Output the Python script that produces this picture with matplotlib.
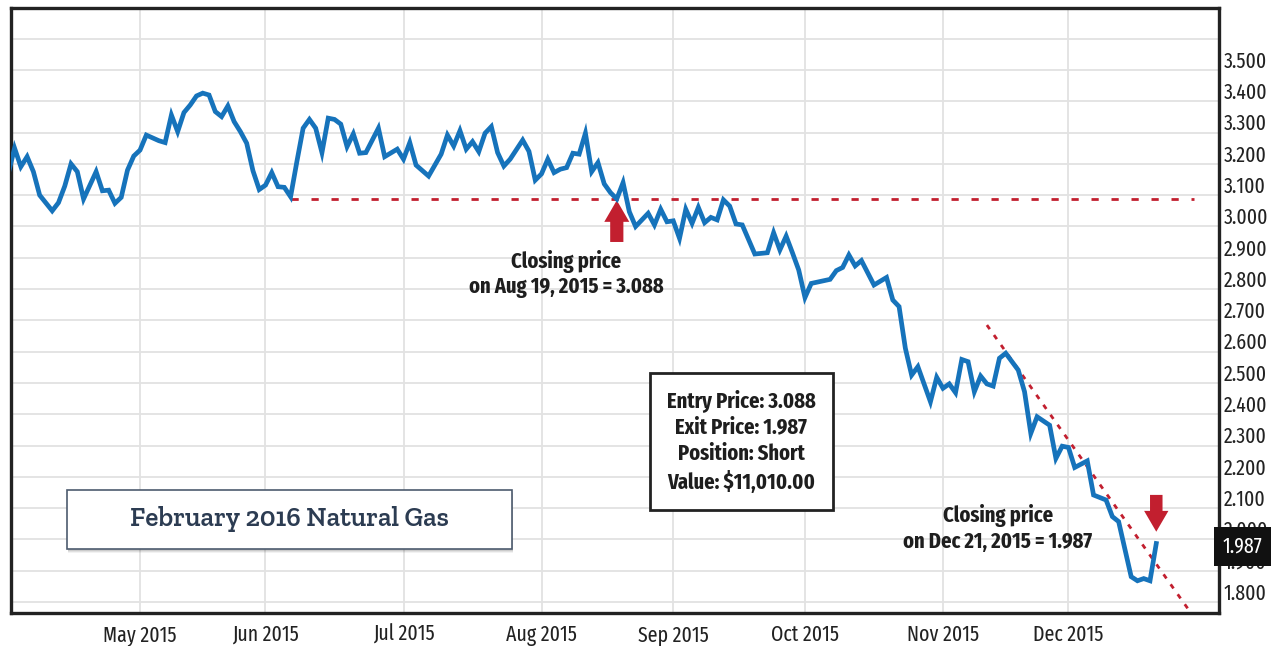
import numpy as np
import matplotlib
matplotlib.use("Agg")
import matplotlib.pyplot as plt
from matplotlib import font_manager as fm
from matplotlib import transforms
from matplotlib.patches import Rectangle

# February 2016 natural gas futures, daily closes
dates = [
    "2015-04-01", "2015-04-02", "2015-04-06", "2015-04-07", "2015-04-08", "2015-04-09",
    "2015-04-13", "2015-04-14", "2015-04-15", "2015-04-16", "2015-04-17", "2015-04-20",
    "2015-04-22", "2015-04-23", "2015-04-24", "2015-04-27", "2015-04-28", "2015-04-29",
    "2015-04-30", "2015-05-01", "2015-05-04", "2015-05-06", "2015-05-07", "2015-05-08",
    "2015-05-11", "2015-05-12", "2015-05-13", "2015-05-14", "2015-05-15", "2015-05-18",
    "2015-05-19", "2015-05-20", "2015-05-21", "2015-05-22", "2015-05-26", "2015-05-27",
    "2015-05-28", "2015-05-29", "2015-06-01", "2015-06-02", "2015-06-03", "2015-06-04",
    "2015-06-05", "2015-06-08", "2015-06-09", "2015-06-10", "2015-06-11", "2015-06-12",
    "2015-06-15", "2015-06-16", "2015-06-17", "2015-06-18", "2015-06-19", "2015-06-22",
    "2015-06-23", "2015-06-25", "2015-06-26", "2015-06-30", "2015-07-01", "2015-07-02",
    "2015-07-06", "2015-07-08", "2015-07-09", "2015-07-10", "2015-07-13", "2015-07-14",
    "2015-07-15", "2015-07-16", "2015-07-17", "2015-07-20", "2015-07-21", "2015-07-22",
    "2015-07-23", "2015-07-24", "2015-07-27", "2015-07-29", "2015-07-30", "2015-07-31",
    "2015-08-03", "2015-08-04", "2015-08-05", "2015-08-06", "2015-08-07", "2015-08-10",
    "2015-08-11", "2015-08-12", "2015-08-13", "2015-08-14", "2015-08-17", "2015-08-18",
    "2015-08-19", "2015-08-20", "2015-08-21", "2015-08-24", "2015-08-26", "2015-08-27",
    "2015-08-28", "2015-08-31", "2015-09-01", "2015-09-02", "2015-09-03", "2015-09-04",
    "2015-09-08", "2015-09-09", "2015-09-10", "2015-09-11", "2015-09-14", "2015-09-15",
    "2015-09-16", "2015-09-17", "2015-09-21", "2015-09-23", "2015-09-24", "2015-09-25",
    "2015-09-28", "2015-09-29", "2015-09-30", "2015-10-01", "2015-10-02", "2015-10-07",
    "2015-10-08", "2015-10-09", "2015-10-12", "2015-10-13", "2015-10-14", "2015-10-16",
    "2015-10-20", "2015-10-21", "2015-10-22", "2015-10-23", "2015-10-26", "2015-10-27",
    "2015-10-29", "2015-10-30", "2015-11-02", "2015-11-03", "2015-11-04", "2015-11-05",
    "2015-11-06", "2015-11-09", "2015-11-10", "2015-11-11", "2015-11-12", "2015-11-13",
    "2015-11-16", "2015-11-18", "2015-11-19", "2015-11-20", "2015-11-23", "2015-11-25",
    "2015-11-27", "2015-11-30", "2015-12-01", "2015-12-02", "2015-12-04", "2015-12-07",
    "2015-12-09", "2015-12-10", "2015-12-11", "2015-12-15", "2015-12-16", "2015-12-17",
    "2015-12-18", "2015-12-21",
]
prices = [
    3.170, 3.250, 3.191, 3.223, 3.175, 3.100,
    3.050, 3.076, 3.129, 3.200, 3.175, 3.088,
    3.175, 3.114, 3.116, 3.074, 3.093, 3.180,
    3.225, 3.244, 3.292, 3.274, 3.268, 3.356,
    3.303, 3.364, 3.388, 3.417, 3.426, 3.420,
    3.367, 3.351, 3.385, 3.335, 3.303, 3.266,
    3.178, 3.118, 3.132, 3.172, 3.127, 3.125,
    3.095, 3.207, 3.314, 3.342, 3.314, 3.236,
    3.346, 3.342, 3.327, 3.255, 3.296, 3.234,
    3.236, 3.314, 3.223, 3.247, 3.215, 3.268,
    3.196, 3.161, 3.196, 3.231, 3.292, 3.257,
    3.306, 3.247, 3.271, 3.239, 3.298, 3.319,
    3.236, 3.193, 3.215, 3.276, 3.240, 3.148,
    3.168, 3.215, 3.172, 3.183, 3.188, 3.234,
    3.231, 3.298, 3.175, 3.204, 3.136, 3.108,
    3.088, 3.140, 3.047, 3.000, 3.042, 3.005,
    3.055, 3.015, 3.018, 2.962, 3.055, 3.010,
    3.061, 3.012, 3.029, 3.021, 3.085, 3.065,
    3.008, 3.005, 2.912, 2.916, 2.980, 2.925,
    2.969, 2.916, 2.861, 2.773, 2.818, 2.831,
    2.859, 2.869, 2.909, 2.874, 2.891, 2.813,
    2.837, 2.765, 2.744, 2.611, 2.525, 2.552,
    2.440, 2.518, 2.483, 2.497, 2.469, 2.575,
    2.568, 2.472, 2.522, 2.497, 2.490, 2.579,
    2.595, 2.541, 2.472, 2.339, 2.392, 2.365,
    2.259, 2.298, 2.294, 2.230, 2.251, 2.142,
    2.126, 2.073, 2.057, 1.881, 1.868, 1.875,
    1.868, 1.987,
]

entry_date, entry_price = "2015-08-19", 3.088
exit_date, exit_price = "2015-12-21", 1.987
level_dates = ["2015-06-05", "2015-12-30"]          # horizontal 3.088 level
trend_dates = ["2015-11-11", "2015-12-29"]          # falling trend line
trend_prices = [2.685, 1.78]

month_starts = ["2015-05-01", "2015-06-01", "2015-07-01", "2015-08-03",
                "2015-09-01", "2015-10-01", "2015-11-02", "2015-12-01"]
month_labels = ["May 2015", "Jun 2015", "Jul 2015", "Aug 2015",
                "Sep 2015", "Oct 2015", "Nov 2015", "Dec 2015"]
y_grid = [1.8, 1.9, 2.0, 2.1, 2.2, 2.3, 2.4, 2.5, 2.6, 2.7, 2.8, 2.9,
          3.0, 3.1, 3.2, 3.3, 3.4, 3.5, 3.6]
y_labels = [1.8, 1.9, 2.0, 2.1, 2.2, 2.3, 2.4, 2.5, 2.6, 2.7, 2.8, 2.9,
            3.0, 3.1, 3.2, 3.3, 3.4, 3.5]

HOLIDAYS = ["2015-04-03", "2015-05-25", "2015-07-03", "2015-09-07",
            "2015-11-26", "2015-12-25"]


def tday(d):
    """trading-day index counted from 2015-04-01"""
    return np.busday_count("2015-04-01", d, holidays=HOLIDAYS)


def pick(cands, fallback="DejaVu Sans"):
    have = {f.name for f in fm.fontManager.ttflist}
    return next((c for c in cands if c in have), fallback)


COND = pick(["Fira Sans Extra Condensed", "Fira Sans Condensed", "Barlow Condensed",
             "Roboto Condensed", "Liberation Sans Narrow"])
SLAB = pick(["Zilla Slab", "Roboto Slab", "Bree Serif", "Hepta Slab"], "DejaVu Serif")

BLUE = "#1673bb"
RED = "#c21f2f"
W, H = 1276, 646


def fx(px):
    return px / W


def fy(py):
    return 1 - py / H


fig = plt.figure(figsize=(W / 100, H / 100), dpi=100)
ax = fig.add_axes([fx(11), fy(613), fx(1219) - fx(11), fy(8) - fy(613)])

x = tday(dates)
ax.plot(x, prices, color=BLUE, lw=3.4, solid_joinstyle="miter", zorder=4)
ax.plot(tday(level_dates), [entry_price, entry_price], color=RED, lw=2,
        ls=(0, (2.6, 4.6)), zorder=3)
ax.plot(tday(trend_dates), trend_prices, color=RED, lw=2, ls=(0, (1.8, 2.6)), zorder=3)

ax.set_xlim(0.43, 193.0)
ax.set_ylim(1.765, 3.698)
ax.set_xticks(tday(month_starts))
ax.set_xticklabels(month_labels, family=COND, fontsize=15.5, color="#222222")
ax.set_yticks(y_grid)
ax.yaxis.tick_right()
ax.set_yticklabels([])
ax.tick_params(length=0)
ax.tick_params(axis="x", pad=8)
ax.grid(color="#e2e2e2", lw=1.3)
ax.set_axisbelow(True)
for s in ax.spines.values():
    s.set_color("#222222")
    s.set_linewidth(2.4)

# price labels sit just above their grid lines
off = transforms.ScaledTranslation(0, 0.085, fig.dpi_scale_trans)
for v in y_labels:
    ax.text(1.004, v, f"{v:.3f}", transform=ax.get_yaxis_transform() + off,
            family=COND, fontsize=15.5, color="#222222", ha="left", va="center",
            clip_on=False)
tag_off = transforms.ScaledTranslation(0, -0.03, fig.dpi_scale_trans)
ax.text(1.003, exit_price, f"{exit_price:.3f}",
        transform=ax.get_yaxis_transform() + tag_off,
        family=COND, fontsize=15.5, color="white", ha="left", va="center",
        bbox=dict(boxstyle="square,pad=0.4", fc="#111111", ec="none"), zorder=10,
        clip_on=False)

# entry / exit arrows
ax.annotate("", xy=(tday(entry_date), entry_price), xytext=(0, -31),
            textcoords="offset points",
            arrowprops=dict(arrowstyle="simple,head_length=15.5,head_width=18,tail_width=9.5",
                            mutation_scale=1, fc=RED, ec="none", shrinkA=0, shrinkB=1))
ax.annotate("", xy=(tday(exit_date), exit_price), xytext=(0, 35),
            textcoords="offset points",
            arrowprops=dict(arrowstyle="simple,head_length=15,head_width=17.5,tail_width=9",
                            mutation_scale=1, fc=RED, ec="none", shrinkA=0, shrinkB=8.5))

bold = dict(family=COND, fontsize=16, fontweight="bold", color="#1e1e1e",
            ha="center", va="center", linespacing=1.25)
fig.text(fx(566), fy(274), f"Closing price\non Aug 19, 2015 = {entry_price:.3f}", **bold)
fig.text(fx(998), fy(528), f"Closing price\non Dec 21, 2015 = {exit_price:.3f}", **bold)

# trade summary box
fig.patches.append(Rectangle((fx(650), fy(510)), fx(833) - fx(650), fy(373) - fy(510),
                             transform=fig.transFigure, fc="white", ec="#222222",
                             lw=2, zorder=5))
fig.text(fx(741), fy(441),
         f"Entry Price: {entry_price:.3f}\nExit Price: {exit_price:.3f}\n"
         "Position: Short\nValue: $11,010.00",
         zorder=6, **dict(bold, linespacing=1.3))

# title box with soft shadow
for i, a in enumerate([0.05, 0.07, 0.09]):
    d = 3 - i
    fig.patches.append(Rectangle((fx(67 + 1), fy(549 + d + 1)), fx(512) - fx(67),
                                 fy(490) - fy(549), transform=fig.transFigure,
                                 fc="black", ec="none", alpha=a, zorder=5))
fig.patches.append(Rectangle((fx(67), fy(549)), fx(512) - fx(67), fy(490) - fy(549),
                             transform=fig.transFigure, fc="white", ec="#4d5b6e",
                             lw=1.2, zorder=6))
fig.text(fx(289.5), fy(519), "February 2016 Natural Gas", family=SLAB, fontsize=19.5,
         fontweight="semibold", color="#2c3c52", ha="center", va="center", zorder=7)

fig.savefig("out.png", dpi=100)
